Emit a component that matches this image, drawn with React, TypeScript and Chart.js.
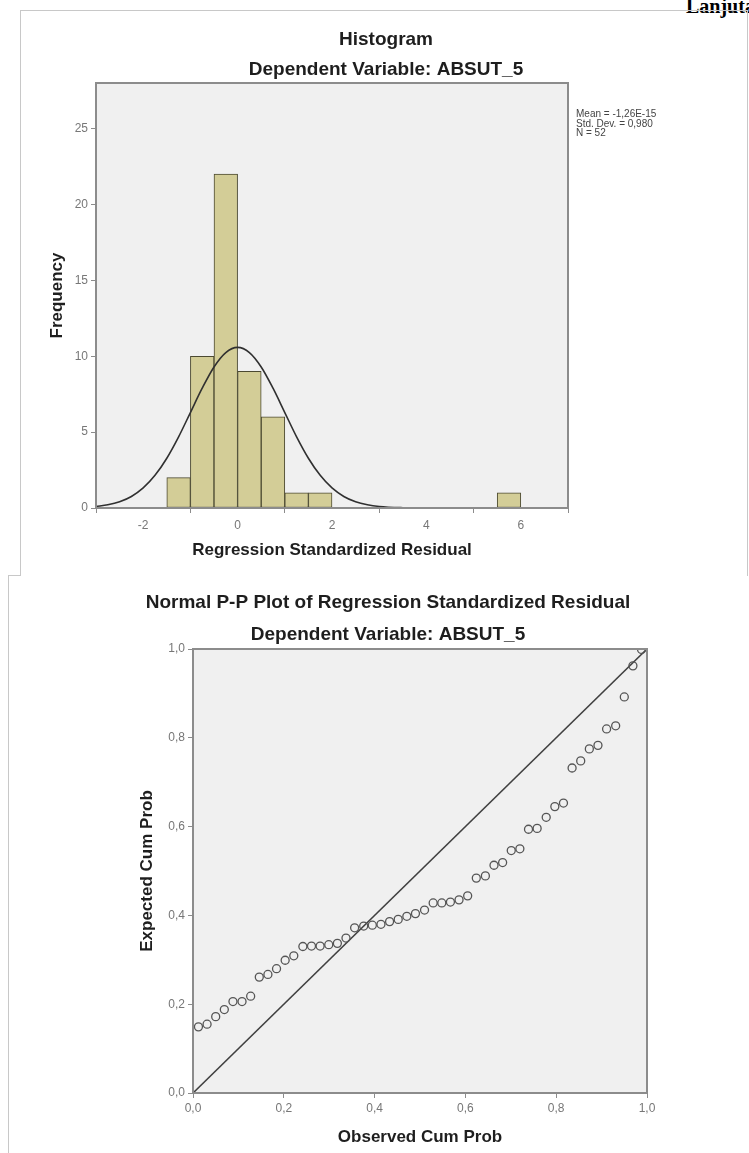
import React, { useEffect, useRef } from 'react';
import { Chart, registerables } from 'chart.js';

Chart.register(...registerables);

// ---------- Histogram data ----------
const HIST_BIN_CENTERS = [-1.25, -0.75, -0.25, 0.25, 0.75, 1.25, 1.75, 5.75];
const HIST_FREQ = [2, 10, 22, 9, 6, 1, 1, 1];
const CURVE_X = [-3, -2.75, -2.5, -2.25, -2, -1.75, -1.5, -1.25, -1, -0.75, -0.5, -0.25, 0, 0.25, 0.5, 0.75, 1, 1.25, 1.5, 1.75, 2, 2.25, 2.5, 2.75, 3, 3.5, 4, 5, 6, 7];
const CURVE_Y = [0.1, 0.21, 0.41, 0.76, 1.32, 2.15, 3.28, 4.69, 6.29, 7.89, 9.29, 10.24, 10.58, 10.24, 9.29, 7.89, 6.29, 4.69, 3.28, 2.15, 1.32, 0.76, 0.41, 0.21, 0.1, 0.02, 0, 0, 0, 0];
const HIST_X_TICKS = [-2, 0, 2, 4, 6];
const HIST_Y_TICKS = [0, 5, 10, 15, 20, 25];
const STATS_LINES = ['Mean = -1,26E-15', 'Std. Dev. = 0,980', 'N = 52'];

// ---------- P-P plot data ----------
const PP_OBSERVED = [0.012, 0.031, 0.05, 0.069, 0.088, 0.108, 0.127, 0.146, 0.165, 0.184, 0.203, 0.222, 0.242, 0.261, 0.28, 0.299, 0.318, 0.337, 0.356, 0.376, 0.395, 0.414, 0.433, 0.452, 0.471, 0.49, 0.51, 0.529, 0.548, 0.567, 0.586, 0.605, 0.624, 0.644, 0.663, 0.682, 0.701, 0.72, 0.739, 0.758, 0.778, 0.797, 0.816, 0.835, 0.854, 0.873, 0.892, 0.911, 0.931, 0.95, 0.969, 0.988];
const PP_EXPECTED = [0.149, 0.155, 0.172, 0.188, 0.206, 0.206, 0.218, 0.261, 0.267, 0.28, 0.299, 0.309, 0.33, 0.331, 0.331, 0.334, 0.337, 0.349, 0.372, 0.376, 0.378, 0.38, 0.386, 0.391, 0.398, 0.404, 0.412, 0.428, 0.428, 0.43, 0.435, 0.444, 0.484, 0.489, 0.513, 0.519, 0.546, 0.55, 0.594, 0.596, 0.621, 0.645, 0.653, 0.732, 0.748, 0.775, 0.783, 0.82, 0.827, 0.892, 0.962, 0.999];
const DIAG_X = [0, 1];
const DIAG_Y = [0, 1];
const PP_TICKS = [0, 0.2, 0.4, 0.6, 0.8, 1.0];
const PP_TICK_LABELS = ['0,0', '0,2', '0,4', '0,6', '0,8', '1,0'];

const FONT = "'Liberation Sans', Arial, sans-serif";
const FRAME = '#8c8c8c';
const TICK_COLOR = '#777777';
const TEXT = '#1e1e1e';

const plotFrame = {
  id: 'plotFrame',
  beforeDraw(chart: any) {
    const { ctx, chartArea: a } = chart;
    ctx.save();
    ctx.fillStyle = '#f0f0f0';
    ctx.fillRect(a.left, a.top, a.right - a.left, a.bottom - a.top);
    ctx.restore();
  },
  afterDraw(chart: any) {
    const { ctx, chartArea: a } = chart;
    ctx.save();
    ctx.strokeStyle = FRAME;
    ctx.lineWidth = 2;
    ctx.strokeRect(a.left, a.top, a.right - a.left, a.bottom - a.top);
    ctx.restore();
  },
};

function axisCommon() {
  return {
    grid: { display: true, drawOnChartArea: false, drawTicks: true, tickLength: 5, color: FRAME },
    border: { display: false },
  };
}

function HistogramChart() {
  const ref = useRef<HTMLCanvasElement>(null);
  useEffect(() => {
    const chart = new Chart(ref.current as HTMLCanvasElement, {
      type: 'bar',
      data: {
        datasets: [
          {
            type: 'bar',
            data: HIST_BIN_CENTERS.map((c, i) => ({ x: c, y: HIST_FREQ[i] })),
            backgroundColor: '#d3cd97',
            borderColor: '#4b4931',
            borderWidth: 1,
            borderSkipped: false,
            barPercentage: 1,
            categoryPercentage: 1,
            order: 2,
          } as any,
          {
            type: 'line',
            data: CURVE_X.map((x, i) => ({ x, y: CURVE_Y[i] })),
            borderColor: '#303030',
            borderWidth: 1.6,
            pointRadius: 0,
            cubicInterpolationMode: 'monotone',
            order: 1,
          } as any,
        ],
      },
      options: {
        animation: false,
        responsive: false,
        layout: { padding: { left: 4, right: 0, top: 0, bottom: 0 } },
        plugins: {
          legend: { display: false },
          tooltip: { enabled: false },
          title: {
            display: true,
            text: 'Histogram',
            color: TEXT,
            font: { family: FONT, size: 19, weight: 'bold' },
            padding: { top: 17.6, bottom: 3.6 },
          },
          subtitle: {
            display: true,
            text: 'Dependent Variable: ABSUT_5',
            color: TEXT,
            font: { family: FONT, size: 19, weight: 'bold' },
            padding: { top: 3.6, bottom: 1.6 },
          },
        },
        scales: {
          x: {
            type: 'linear',
            min: -3,
            max: 7,
            offset: false,
            ...axisCommon(),
            afterBuildTicks: (s: any) => {
              s.ticks = HIST_X_TICKS.map((v) => ({ value: v }));
            },
            afterFit: (s: any) => {
              s.height = 67;
            },
            ticks: {
              autoSkip: false,
              maxRotation: 0,
              padding: 5,
              color: TICK_COLOR,
              font: { family: FONT, size: 12 },
              callback: (v: any) => String(v),
            },
            title: {
              display: true,
              text: 'Regression Standardized Residual',
              color: TEXT,
              font: { family: FONT, size: 17, weight: 'bold' },
              padding: { top: 0, bottom: 14.8 },
            },
          },
          y: {
            type: 'linear',
            position: 'left',
            min: 0,
            max: 28,
            ...axisCommon(),
            afterBuildTicks: (s: any) => {
              s.ticks = HIST_Y_TICKS.map((v) => ({ value: v }));
            },
            afterFit: (s: any) => {
              s.width = 71;
            },
            ticks: {
              padding: 3,
              color: TICK_COLOR,
              font: { family: FONT, size: 12 },
              callback: (v: any) => String(v),
            },
            title: {
              display: true,
              text: 'Frequency',
              color: TEXT,
              font: { family: FONT, size: 17, weight: 'bold' },
              padding: { top: 21.8, bottom: 0 },
            },
          },
          yR: {
            type: 'linear',
            position: 'right',
            display: true,
            grid: { display: false },
            ticks: { display: false },
            border: { display: false },
            afterFit: (s: any) => {
              s.width = 179;
            },
          },
        },
      } as any,
      plugins: [plotFrame],
    });
    return () => chart.destroy();
  }, []);
  return <canvas ref={ref} width={726} height={564} style={{ display: 'block' }} />;
}

function PPChart() {
  const ref = useRef<HTMLCanvasElement>(null);
  useEffect(() => {
    const chart = new Chart(ref.current as HTMLCanvasElement, {
      type: 'scatter',
      data: {
        datasets: [
          {
            type: 'line',
            data: DIAG_X.map((x, i) => ({ x, y: DIAG_Y[i] })),
            borderColor: '#404040',
            borderWidth: 1.6,
            pointRadius: 0,
            order: 2,
          } as any,
          {
            type: 'scatter',
            data: PP_OBSERVED.map((x, i) => ({ x, y: PP_EXPECTED[i] })),
            pointRadius: 4,
            pointBorderWidth: 1.3,
            borderColor: '#555555',
            backgroundColor: 'rgba(0,0,0,0)',
            order: 1,
          } as any,
        ],
      },
      options: {
        animation: false,
        responsive: false,
        layout: { padding: { left: 18, right: 0, top: 0, bottom: 0 } },
        plugins: {
          legend: { display: false },
          tooltip: { enabled: false },
          title: {
            display: true,
            text: 'Normal P-P Plot of Regression Standardized Residual',
            color: TEXT,
            font: { family: FONT, size: 19, weight: 'bold' },
            padding: { top: 15.6, bottom: 4.6 },
          },
          subtitle: {
            display: true,
            text: 'Dependent Variable: ABSUT_5',
            color: TEXT,
            font: { family: FONT, size: 19, weight: 'bold' },
            padding: { top: 4.6, bottom: 2.6 },
          },
        },
        scales: {
          x: {
            type: 'linear',
            min: 0,
            max: 1,
            ...axisCommon(),
            afterBuildTicks: (s: any) => {
              s.ticks = PP_TICKS.map((v) => ({ value: v }));
            },
            afterFit: (s: any) => {
              s.height = 60;
            },
            ticks: {
              autoSkip: false,
              maxRotation: 0,
              padding: 3,
              color: TICK_COLOR,
              font: { family: FONT, size: 12 },
              callback: (_v: any, i: number) => PP_TICK_LABELS[i],
            },
            title: {
              display: true,
              text: 'Observed Cum Prob',
              color: TEXT,
              font: { family: FONT, size: 17, weight: 'bold' },
              padding: { top: 0, bottom: 5.8 },
            },
          },
          y: {
            type: 'linear',
            position: 'left',
            min: 0,
            max: 1,
            ...axisCommon(),
            afterBuildTicks: (s: any) => {
              s.ticks = PP_TICKS.map((v) => ({ value: v }));
            },
            afterFit: (s: any) => {
              s.width = 166;
            },
            ticks: {
              padding: 3,
              color: TICK_COLOR,
              font: { family: FONT, size: 12 },
              callback: (_v: any, i: number) => PP_TICK_LABELS[i],
            },
            title: {
              display: true,
              text: 'Expected Cum Prob',
              color: TEXT,
              font: { family: FONT, size: 17, weight: 'bold' },
              padding: { top: 109.8, bottom: 0 },
            },
          },
          yR: {
            type: 'linear',
            position: 'right',
            display: true,
            grid: { display: false },
            ticks: { display: false },
            border: { display: false },
            afterFit: (s: any) => {
              s.width = 102;
            },
          },
        },
      } as any,
      plugins: [plotFrame],
    });
    return () => chart.destroy();
  }, []);
  return <canvas ref={ref} width={740} height={577} style={{ display: 'block' }} />;
}

export default function App() {
  const line = '1px solid #c8c8c8';
  return (
    <div
      style={{
        position: 'absolute',
        left: 0,
        top: 0,
        width: 749,
        height: 1153,
        overflow: 'hidden',
        background: '#ffffff',
        fontFamily: FONT,
      }}
    >
      <div
        style={{
          position: 'absolute',
          left: 686,
          top: -4,
          font: "bold 20px 'Liberation Serif', 'Times New Roman', serif",
          lineHeight: '20px',
          whiteSpace: 'nowrap',
          color: '#000',
        }}
      >
        Lanjutan
      </div>
      {/* top chart frame */}
      <div
        style={{
          position: 'absolute',
          left: 20,
          top: 10,
          width: 726,
          height: 565,
          borderLeft: line,
          borderTop: line,
          borderRight: line,
        }}
      />
      <div style={{ position: 'absolute', left: 21, top: 11 }}>
        <HistogramChart />
      </div>
      <div
        style={{
          position: 'absolute',
          left: 576,
          top: 109,
          fontSize: 10,
          lineHeight: '9.5px',
          color: '#444',
          whiteSpace: 'nowrap',
        }}
      >
        {STATS_LINES.map((t) => (
          <div key={t}>{t}</div>
        ))}
      </div>
      {/* bottom chart frame */}
      <div
        style={{
          position: 'absolute',
          left: 8,
          top: 575,
          width: 12,
          height: 600,
          borderLeft: line,
          borderTop: line,
        }}
      />
      <div style={{ position: 'absolute', left: 9, top: 576 }}>
        <PPChart />
      </div>
    </div>
  );
}
